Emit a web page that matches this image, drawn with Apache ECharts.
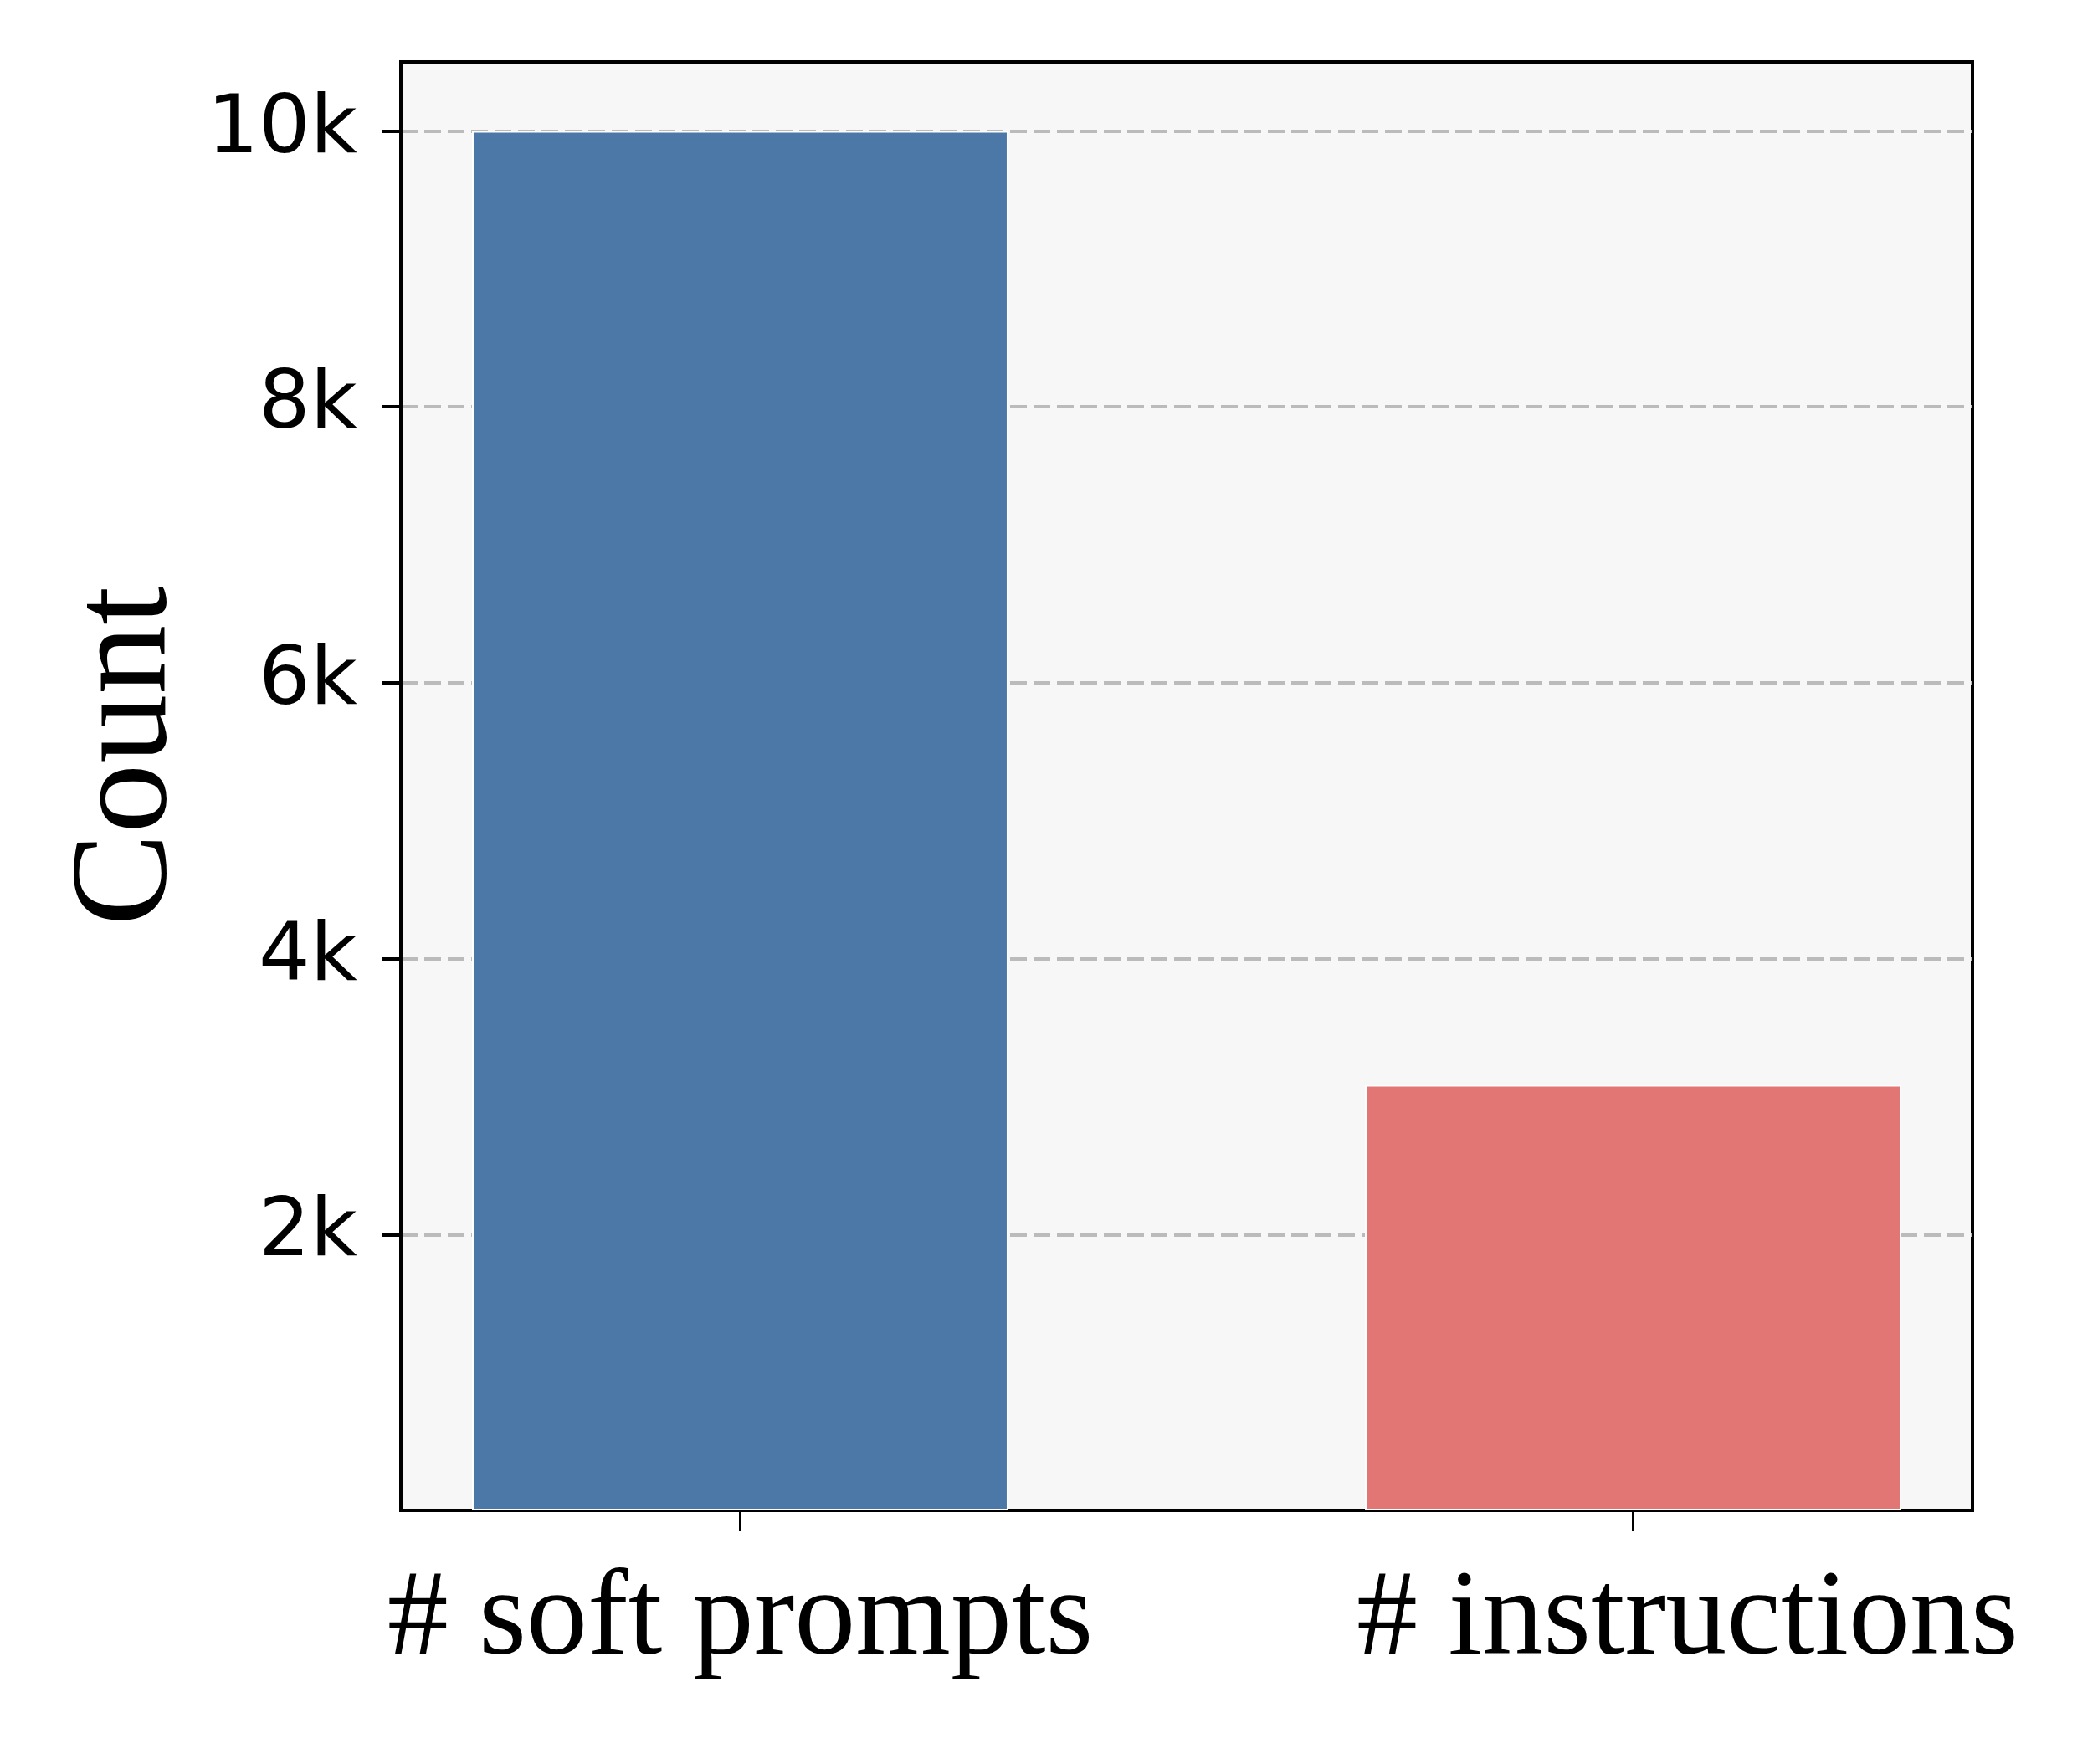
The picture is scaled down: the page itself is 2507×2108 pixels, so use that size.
<!DOCTYPE html>
<html>
<head>
<meta charset="utf-8">
<script src="https://cdn.jsdelivr.net/npm/echarts@6/dist/echarts.min.js"></script>
<style>
html,body{margin:0;padding:0;background:#fff;}
#chart{width:2507px;height:2108px;}
</style>
</head>
<body>
<div id="chart"></div>
<script>
const categories = ['# soft prompts', '# instructions'];
const positions = [0, 1];
const counts = [10000, 3085];
const barColors = ['#4c78a8', '#e17675'];
const yTicks = [2000, 4000, 6000, 8000, 10000];
const yTickLabels = ['2k', '4k', '6k', '8k', '10k'];

const chart = echarts.init(document.getElementById('chart'), null, {renderer: 'canvas'});

const barData = positions.map((p, i) => ({
  value: [p, counts[i]],
  itemStyle: {color: barColors[i]}
}));

const serif = '"Liberation Serif", "Times New Roman", serif';
const sans = '"DejaVu Sans", sans-serif';

chart.setOption({
  animation: false,
  backgroundColor: '#ffffff',
  grid: {
    left: 479, top: 74, right: 150, bottom: 303,
    show: true, backgroundColor: '#f7f7f7',
    borderColor: '#000000', borderWidth: 4,
    containLabel: false
  },
  xAxis: {
    type: 'value',
    min: -0.38, max: 1.38,
    axisLine: {show: true, onZero: false, lineStyle: {color: '#000', width: 4}},
    splitLine: {show: false},
    axisTick: {show: true, customValues: positions, length: 25, lineStyle: {color: '#000', width: 3}},
    axisLabel: {
      show: true,
      customValues: positions,
      margin: 60,
      fontFamily: serif, fontSize: 146, color: '#000',
      formatter: function (v) {
        const i = positions.indexOf(v);
        if (i < 0) return '';
        return i === 1 ? '{b|' + categories[i] + '}' : '{a|' + categories[i] + '}';
      },
      rich: {
        a: {fontFamily: serif, fontSize: 146, color: '#000'},
        b: {fontFamily: serif, fontSize: 146, color: '#000', padding: [0, 0, 0, 130]}
      }
    }
  },
  yAxis: {
    type: 'value',
    min: 0, max: 10500,
    name: 'Count',
    nameLocation: 'middle',
    nameGap: 241,
    nameTextStyle: {fontFamily: serif, fontSize: 166, color: '#000', padding: [0, 0, 0, 72]},
    axisLine: {show: true, onZero: false, lineStyle: {color: '#000', width: 4}},
    axisTick: {show: true, inside: false, customValues: yTicks, length: 22, lineStyle: {color: '#000', width: 4}},
    axisLabel: {
      show: true,
      customValues: yTicks,
      margin: 52,
      fontFamily: sans, fontSize: 97, color: '#000',
      formatter: function (v) {
        const i = yTicks.indexOf(v);
        return i < 0 ? '' : yTickLabels[i];
      }
    },
    splitLine: {show: true, lineStyle: {color: '#bbbbbb', width: 4, type: [20, 8]}}
  },
  series: [{
    type: 'bar',
    data: barData,
    barWidth: 641,
    itemStyle: {borderColor: '#ffffff', borderWidth: 2},
    z: 3
  }]
});
</script>
</body>
</html>
